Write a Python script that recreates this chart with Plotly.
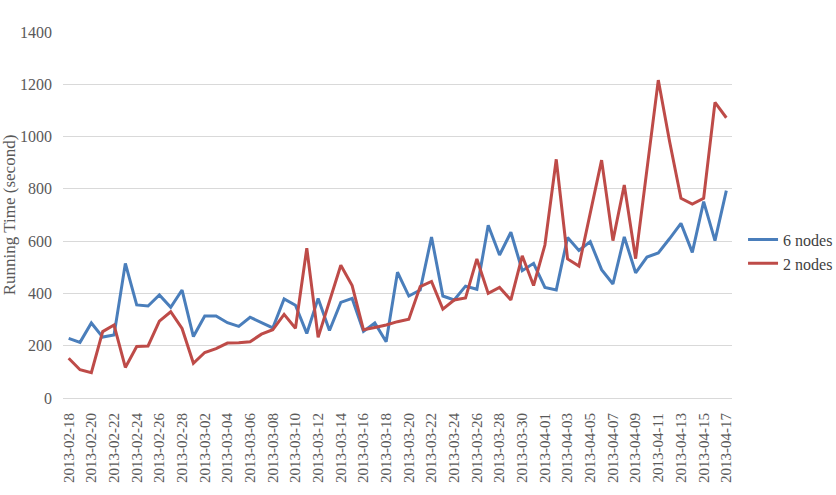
import pandas as pd
import plotly.graph_objects as go

dates = [d.strftime("%Y-%m-%d") for d in pd.date_range("2013-02-18", "2013-04-17", freq="D")]

nodes6 = [228, 213, 287, 233, 241, 515, 356, 352, 394, 347,
          413, 235, 314, 314, 288, 274, 309, 289, 268, 379,
          355, 247, 381, 258, 366, 381, 255, 287, 215, 481,
          390, 413, 616, 390, 375, 428, 416, 661, 547, 634,
          487, 515, 423, 413, 614, 564, 598, 491, 436, 616,
          479, 539, 555, 610, 668, 557, 751, 602, 793]

nodes2 = [152, 108, 97, 254, 279, 117, 197, 199, 294, 330,
          266, 133, 174, 189, 210, 211, 215, 244, 261, 320,
          267, 573, 232, 370, 508, 430, 261, 270, 279, 292,
          301, 426, 446, 340, 375, 383, 532, 400, 423, 375,
          544, 430, 585, 913, 532, 505, 710, 910, 602, 815,
          533, 880, 1216, 980, 764, 742, 764, 1131, 1072]

tick_labels = dates[::2]
y_ticks = [0, 200, 400, 600, 800, 1000, 1200, 1400]

font_family = "Liberation Serif, Times New Roman, serif"

fig = go.Figure()
fig.add_trace(go.Scatter(x=dates, y=nodes6, mode="lines", name="6 nodes",
                         line=dict(color="#4A7EBB", width=3)))
fig.add_trace(go.Scatter(x=dates, y=nodes2, mode="lines", name="2 nodes",
                         line=dict(color="#BE4B48", width=3)))

fig.update_layout(
    width=836, height=495,
    margin=dict(l=63, r=104, t=32, b=97, autoexpand=False),
    paper_bgcolor="white", plot_bgcolor="white",
    font=dict(family=font_family, color="#595959", size=14),
    showlegend=True,
    legend=dict(x=1.0165, xanchor="left", y=0.40, yanchor="middle",
                font=dict(family=font_family, size=16, color="#404040"),
                itemwidth=30, tracegroupgap=0, bgcolor="rgba(0,0,0,0)"),
)
fig.update_xaxes(type="category", range=[-0.5, len(dates) - 0.5],
                 tickmode="array", tickvals=tick_labels, ticktext=tick_labels,
                 tickangle=-90, tickfont=dict(size=15, color="#595959"),
                 ticklabelstandoff=8, automargin=False,
                 showgrid=False, showline=True, linecolor="#D9D9D9", linewidth=1,
                 ticks="", zeroline=False)
fig.update_yaxes(range=[0, 1400], tickvals=y_ticks, showgrid=True,
                 gridcolor="#D9D9D9", gridwidth=1, zeroline=False,
                 showline=False, ticks="", ticklabelstandoff=10, automargin=False,
                 tickfont=dict(size=16, color="#595959"),
                 title=dict(text="Running Time (second)", standoff=4,
                            font=dict(size=17, color="#595959")))

fig.write_html("out.html")
